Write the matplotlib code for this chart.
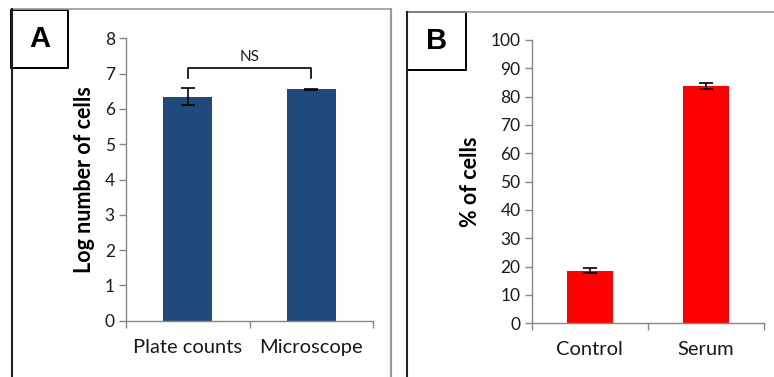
import matplotlib
matplotlib.use("Agg")
import matplotlib.pyplot as plt
from matplotlib.lines import Line2D
from matplotlib.patches import Rectangle

# panel A data
cats_a = ["Plate counts", "Microscope"]
vals_a = [6.35, 6.55]
errs_a = [0.23, 0.02]

# panel B data
cats_b = ["Control", "Serum"]
vals_b = [18.6, 83.8]
errs_b = [0.9, 1.0]

W, H = 774, 377
plt.rcParams['font.family'] = ['Lato', 'DejaVu Sans']

fig = plt.figure(figsize=(W / 100, H / 100), dpi=100)


def px(x0, y0, x1, y1):
    # pixel box (top-left origin) -> figure fraction rect
    return [x0 / W, 1 - y1 / H, (x1 - x0) / W, (y1 - y0) / H]


def style_axes(ax, cats, ymax, step):
    ax.set_xlim(-0.5, len(cats) - 0.5)
    ax.set_ylim(0, ymax)
    ax.set_yticks(range(0, ymax + 1, step))
    ax.set_xticks(range(len(cats)))
    ax.set_xticklabels(cats, fontsize=14.5, color="#1a1a1a")
    ax.set_xticks([i - 0.5 for i in range(len(cats) + 1)], minor=True)
    ax.tick_params(axis="x", which="major", length=0, pad=13)
    ax.tick_params(axis="x", which="minor", length=5, color="#868686", width=1)
    ax.tick_params(axis="y", length=5, color="#868686", width=1,
                   labelsize=12.5, labelcolor="#1a1a1a", pad=3)
    for s in ["top", "right"]:
        ax.spines[s].set_visible(False)
    for s in ["left", "bottom"]:
        ax.spines[s].set_color("#868686")
        ax.spines[s].set_linewidth(1)


# panel frames
fig.add_artist(Line2D([12 / W, 391 / W], [1 - 9 / H, 1 - 9 / H], color="#9a9a9a", lw=1.2))
fig.add_artist(Line2D([12 / W, 12 / W], [1 - 9 / H, 0], color="#222222", lw=1.5))
fig.add_artist(Line2D([391 / W, 391 / W], [1 - 9 / H, 0], color="#9a9a9a", lw=1.6))
fig.add_artist(Line2D([407 / W, 1], [1 - 12 / H, 1 - 12 / H], color="#9a9a9a", lw=1.2))
fig.add_artist(Line2D([407 / W, 407 / W], [1 - 12 / H, 0], color="#222222", lw=1.5))

# panel letter boxes
for (x0, y0, x1, y1), letter in [((11, 10, 68, 68), "A"), ((407, 12, 466, 70), "B")]:
    r = px(x0, y0, x1, y1)
    fig.add_artist(Rectangle((r[0], r[1]), r[2], r[3], transform=fig.transFigure,
                             facecolor="white", edgecolor="black", lw=1.4))
    fig.text(r[0] + r[2] / 2, r[1] + r[3] / 2, letter, ha="center", va="center",
             fontsize=21, fontweight="bold", family="Liberation Sans")

# panel A
ax1 = fig.add_axes(px(126, 38.3, 373, 320.7))
ax1.bar(range(len(cats_a)), vals_a, width=0.4, color="#214A7C")
ax1.errorbar(range(len(cats_a)), vals_a, yerr=errs_a, fmt="none",
             ecolor="black", elinewidth=1.2, capsize=5, capthick=1.2)
style_axes(ax1, cats_a, 8, 1)
ax1.set_ylabel("Log number of cells", fontsize=15.5, fontweight="bold", labelpad=7)
ax1.plot([0, 0, 1, 1], [6.87, 7.15, 7.15, 6.87], color="black", lw=1.2, clip_on=False)
ax1.text(0.5, 7.27, "NS", ha="center", va="bottom", fontsize=11, color="#1a1a1a")

# panel B
ax2 = fig.add_axes(px(531.7, 40, 764, 323.3))
ax2.bar(range(len(cats_b)), vals_b, width=0.4, color="#FF0000")
ax2.errorbar(range(len(cats_b)), vals_b, yerr=errs_b, fmt="none",
             ecolor="black", elinewidth=1.2, capsize=5, capthick=1.2)
style_axes(ax2, cats_b, 100, 10)
ax2.set_ylabel("% of cells", fontsize=15.5, fontweight="bold", labelpad=7)

fig.savefig("out.png", dpi=100)
